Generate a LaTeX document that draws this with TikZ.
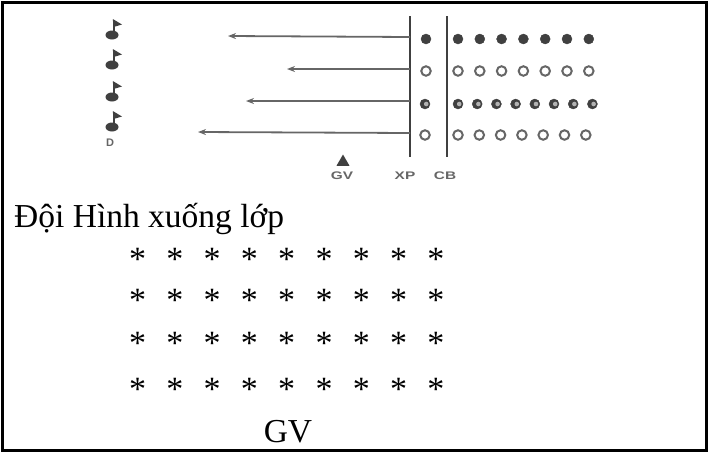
\documentclass[tikz,border=0pt]{standalone}
\usepackage{fontspec}
\setmainfont{Liberation Serif}
\newfontfamily\labfont{Liberation Sans}
\usetikzlibrary{arrows.meta,shapes.geometric}
\definecolor{ink}{gray}{0.25}
\definecolor{inklight}{gray}{0.40}
\tikzset{
  frame/.style={line width=3pt, black},
  bar/.style={ink, line width=2.6pt},
  move/.style={inklight, line width=1.8pt, -{Stealth[length=8pt,width=6pt]}},
  full/.style={circle, fill=ink, draw=ink, minimum size=10pt, inner sep=0pt},
  ring/.style={circle, draw=inklight, line width=2pt, minimum size=9.5pt, inner sep=0pt},
  half/.style={circle, fill=ink, draw=ink, minimum size=10pt, inner sep=0pt,
    path picture={\fill[gray!60] ([xshift=1.2pt]path picture bounding box.center) circle (2.3pt);}},
  lab/.style={font=\labfont\bfseries\fontsize{11}{11}\selectfont, text=inklight, inner sep=0pt, xscale=1.4},
  big/.style={font=\fontsize{33.5}{33.5}\selectfont, inner sep=0pt},
  star/.style={font=\fontsize{34}{34}\selectfont, inner sep=0pt, anchor=north},
  flagnote/.pic={
    \fill[ink] (0,0) ellipse (6.5pt and 4.5pt);
    \draw[ink, line width=2pt] (1.5,-2) -- (1.5,-15);
    \fill[ink] (0.8,-16) -- (10,-10.5) -- (1.5,-8) -- cycle;
  }
}
\begin{document}
\begin{tikzpicture}[x=1pt,y=-1pt]
\useasboundingbox (0,0) rectangle (715,453);
% frame
\draw[frame] (2,2) rectangle (706.5,450);

% team leader flags
\pic at (112,35) {flagnote};
\pic at (112,65) {flagnote};
\pic at (112,97) {flagnote};
\pic at (112,127) {flagnote};
\node[font=\labfont\bfseries\fontsize{11}{11}\selectfont, text=inklight, inner sep=0pt] (dmark) at (110,143) {D};

% XP and CB lines
\coordinate (xpT) at (410,16);
\coordinate (xpB) at (410,157);
\coordinate (cbT) at (447,16);
\coordinate (cbB) at (447,157);
\draw[bar] (xpT) -- (xpB);
\draw[bar] (cbT) -- (cbB);

% arrows
\coordinate (r1) at (410,37);  \coordinate (t1) at (228,36);
\coordinate (r2) at (410,69);  \coordinate (t2) at (287,69);
\coordinate (r3) at (410,101); \coordinate (t3) at (246,101);
\coordinate (r4) at (410,133); \coordinate (t4) at (198,132);
\draw[move] (r1) -- (t1);
\draw[move] (r2) -- (t2);
\draw[move] (r3) -- (t3);
\draw[move] (r4) -- (t4);

% rows of pupils
\node[full] (p1-0) at (426,39) {};
\foreach \i in {1,...,7} \node[full] (p1-\i) at ({458+(\i-1)*21.8},39) {};
\node[ring] (p2-0) at (426,71) {};
\foreach \i in {1,...,7} \node[ring] (p2-\i) at ({458+(\i-1)*21.8},71) {};
\node[half] (p3-0) at (425,104) {};
\foreach \i in {1,...,8} \node[half] (p3-\i) at ({458+(\i-1)*19.2},104) {};
\node[ring] (p4-0) at (425,135) {};
\foreach \i in {1,...,7} \node[ring] (p4-\i) at ({458+(\i-1)*21.3},135) {};

% teacher and labels
\node[regular polygon, regular polygon sides=3, fill=ink, inner sep=0pt, minimum size=15pt] (gvmark) at (343,162) {};
\node[lab] (gvlab) at (342,176) {GV};
\node[lab] (xplab) at (405,176) {XP};
\node[lab] (cblab) at (445,176) {CB};

% lower part
\node[big, anchor=base west] (title) at (14,227) {Đội Hình xuống lớp};
\foreach \r/\y in {1/248,2/289,3/332,4/378}
  \foreach \c in {1,...,9}
    \node[star] (s-\r-\c) at ({137.5+(\c-1)*37.3},\y) {*};
\node[big, anchor=base] (gv) at (288,442) {GV};
\end{tikzpicture}
\end{document}
